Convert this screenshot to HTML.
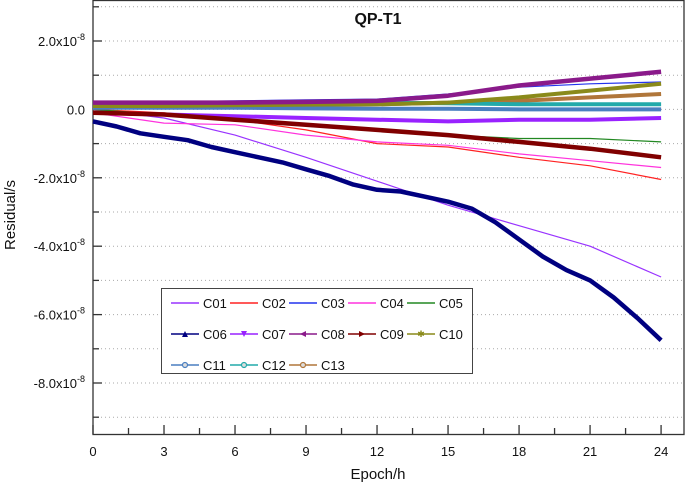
<!DOCTYPE html>
<html><head><meta charset="utf-8"><style>
html,body{margin:0;padding:0;background:#fff;}
svg text{font-family:"Liberation Sans",Arial,sans-serif;}
</style></head><body>
<svg id="chart" width="685" height="486" xmlns="http://www.w3.org/2000/svg"></svg>
<script>
const hours=[0,3,6,9,12,15,18,21,24];
const navyHours=[0,1,2,3,4,5,6,7,8,9,10,11,12,13,14,15,16,17,18,19,20,21,22,23,24];
const c01=[0,-0.25,-0.75,-1.4,-2.1,-2.8,-3.4,-4.0,-4.9];
const c02=[0,-0.1,-0.3,-0.6,-1.0,-1.1,-1.4,-1.65,-2.05];
const c03=[0.2,0.22,0.25,0.28,0.3,0.45,0.65,0.75,0.8];
const c04=[-0.1,-0.4,-0.45,-0.75,-0.95,-1.05,-1.3,-1.5,-1.7];
const c05=[0,-0.15,-0.3,-0.45,-0.6,-0.75,-0.85,-0.85,-0.95];
const c06=[-0.35,-0.5,-0.7,-0.8,-0.9,-1.1,-1.25,-1.4,-1.55,-1.75,-1.95,-2.2,-2.35,-2.4,-2.55,-2.7,-2.9,-3.3,-3.8,-4.3,-4.7,-5.0,-5.5,-6.1,-6.75];
const c07=[-0.1,-0.15,-0.2,-0.25,-0.3,-0.35,-0.3,-0.3,-0.25];
const c08=[0.2,0.2,0.2,0.22,0.25,0.4,0.7,0.9,1.1];
const c09=[-0.1,-0.15,-0.3,-0.45,-0.6,-0.75,-0.95,-1.15,-1.4];
const c10=[0.1,0.1,0.12,0.14,0.15,0.2,0.35,0.55,0.75];
const c11=[0.05,0.05,0.05,0.03,0.02,0.02,0.0,0.0,0.0];
const c12=[0.2,0.2,0.2,0.2,0.2,0.18,0.15,0.15,0.15];
const c13=[0.05,0.08,0.1,0.12,0.15,0.2,0.25,0.35,0.45];
const xTicks=[0,3,6,9,12,15,18,21,24];
const yTicks=[2,0,-2,-4,-6,-8];
const yTickLabels=["2.0x10","0.0","-2.0x10","-4.0x10","-6.0x10","-8.0x10"];
const legendNames=["C01","C02","C03","C04","C05","C06","C07","C08","C09","C10","C11","C12","C13"];

const L=93,R=684,T=0,B=434;
const xs=h=>L+h*23.67;
const ys=v=>109.4-v*34.2;
const svg=document.getElementById('chart');
const NS="http://www.w3.org/2000/svg";
function mk(tag,at,parent){const e=document.createElementNS(NS,tag);for(const k in at)e.setAttribute(k,at[k]);(parent||svg).appendChild(e);return e;}

for(let v=-9;v<=3;v++){
  const g=mk('line',{x1:L,x2:R,y1:ys(v),y2:ys(v),stroke:'#aaa','stroke-width':1,'stroke-dasharray':'1,3'});
  
  
}
const fr=mk('rect',{x:L,y:T+0.5,width:R-L,height:B-T,fill:'none',stroke:'#333','stroke-width':1.3});


for(let v=-9;v<=3;v++){
  const len=(v%2===0)?9:6;
  const t=mk('line',{x1:L,x2:L+len,y1:ys(v),y2:ys(v),stroke:'#333','stroke-width':1.3});
  
  
}
yTicks.forEach((v,i)=>{
  const t=mk('text',{x:85,y:ys(v)+5,'text-anchor':'end','font-size':13,fill:'#111'});
  t.textContent=yTickLabels[i];
  if(v!==0){const s=mk('tspan',{dy:-6,'font-size':9},t);s.textContent='-8';}
  
  
});
for(let h=0;h<=25;h+=1.5){
  const len=(h%3===0)?9:6;
  const t=mk('line',{x1:xs(h),x2:xs(h),y1:B,y2:B-len,stroke:'#333','stroke-width':1.3});
  
  
}
xTicks.forEach(h=>{
  const t=mk('text',{x:xs(h),y:456,'text-anchor':'middle','font-size':13,fill:'#111'});
  t.textContent=String(h);
  
  
});
const xt=mk('text',{x:378,y:479,'text-anchor':'middle','font-size':15,fill:'#111'});xt.textContent='Epoch/h';


const yt=mk('text',{x:0,y:0,'text-anchor':'middle','font-size':15,fill:'#111',transform:'translate(15,215) rotate(-90)'});yt.textContent='Residual/s';


const tt=mk('text',{x:378,y:24,'text-anchor':'middle','font-size':16,'font-weight':'bold',fill:'#111'});tt.textContent='QP-T1';



function marker(type,x,y,color,parent,sz){
  sz=sz||3;
  if(type==='up')return mk('polygon',{points:`${x},${y-sz} ${x-sz},${y+sz} ${x+sz},${y+sz}`,fill:color},parent);
  if(type==='down')return mk('polygon',{points:`${x},${y+sz} ${x-sz},${y-sz} ${x+sz},${y-sz}`,fill:color},parent);
  if(type==='left')return mk('polygon',{points:`${x-sz},${y} ${x+sz},${y-sz} ${x+sz},${y+sz}`,fill:color},parent);
  if(type==='right')return mk('polygon',{points:`${x+sz},${y} ${x-sz},${y-sz} ${x-sz},${y+sz}`,fill:color},parent);
  if(type==='star')return mk('text',{x:x,y:y+3,'text-anchor':'middle','font-size':9,fill:color},parent);
  if(type==='circ')return mk('circle',{cx:x,cy:y,r:sz-0.5,fill:'#ddd',stroke:color,'stroke-width':1.2},parent);
  return null;
}
const series=[
 {n:'C01',c:'#9933ff',d:c01,h:hours,w:1.2},
 {n:'C02',c:'#ff2222',d:c02,h:hours,w:1.2},
 {n:'C03',c:'#2233ee',d:c03,h:hours,w:1.2},
 {n:'C04',c:'#ff33dd',d:c04,h:hours,w:1.2},
 {n:'C05',c:'#228822',d:c05,h:hours,w:1.2},
 {n:'C13',c:'#b0763a',d:c13,h:hours,w:4},
 {n:'C12',c:'#22aaaa',d:c12,h:hours,w:4},
 {n:'C11',c:'#4a7fc0',d:c11,h:hours,w:4},
 {n:'C10',c:'#8a8a1a',d:c10,h:hours,w:4},
 {n:'C08',c:'#8a1a8a',d:c08,h:hours,w:4.5},
 {n:'C07',c:'#9922ff',d:c07,h:hours,w:4},
 {n:'C09',c:'#800000',d:c09,h:hours,w:4.5},
 {n:'C06',c:'#000080',d:c06,h:navyHours,w:4.5}
];
series.forEach(s=>{
  const g=mk('g',{});
  
  
  const pts=s.d.map((v,i)=>xs(s.h[i]).toFixed(1)+','+ys(v).toFixed(1)).join(' ');
  const p=mk('polyline',{points:pts,fill:'none',stroke:s.c,'stroke-width':s.w,'stroke-linejoin':'round'},g);
  
  
});

const lg=mk('g',{});


mk('rect',{x:161.5,y:288.5,width:311,height:85,fill:'#fff',stroke:'#444','stroke-width':1},lg);
const legMarks={C06:'up',C07:'down',C08:'left',C09:'right',C10:'star',C11:'circ',C12:'circ',C13:'circ'};
const legColors={C01:'#9933ff',C02:'#ff2222',C03:'#2233ee',C04:'#ff33dd',C05:'#228822',C06:'#000080',C07:'#9922ff',C08:'#8a1a8a',C09:'#800000',C10:'#8a8a1a',C11:'#4a7fc0',C12:'#22aaaa',C13:'#b0763a'};
legendNames.forEach((n,i)=>{
  const col=i%5,row=Math.floor(i/5);
  const x=171+col*59,y=303+row*31;
  const e=mk('g',{},lg);
  
  
  mk('line',{x1:x,x2:x+28,y1:y,y2:y,stroke:legColors[n],'stroke-width':1.6},e);
  if(legMarks[n]){const m=marker(legMarks[n],x+14,y,legColors[n],e,3);if(m&&legMarks[n]==='star')m.textContent='✱';}
  const t=mk('text',{x:x+32,y:y+5,'font-size':13,fill:'#111'},e);t.textContent=n;
});
</script>
</body></html>
